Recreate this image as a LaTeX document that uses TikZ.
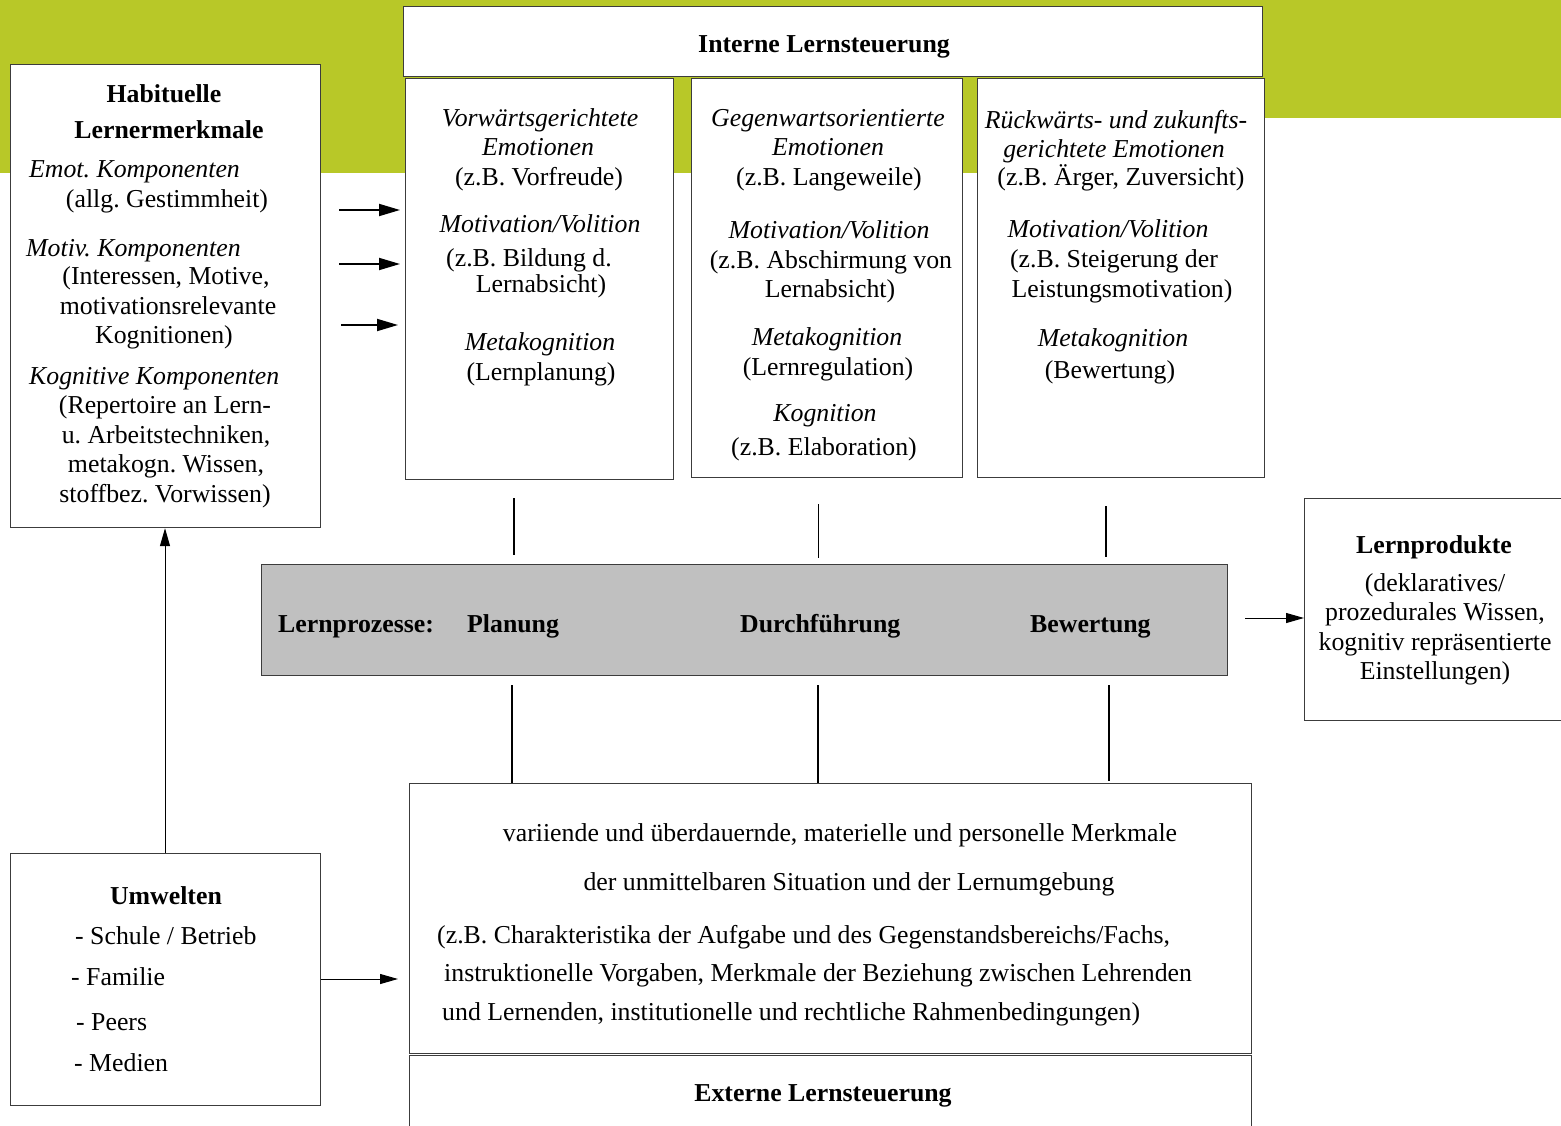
\documentclass[tikz,border=0pt]{standalone}
\usepackage{fontspec}
\setmainfont{Liberation Serif}
\usetikzlibrary{arrows.meta}
\definecolor{lime}{RGB}{184,200,40}
\definecolor{framec}{RGB}{60,60,60}
\definecolor{greyfill}{RGB}{192,192,192}
\newcommand\Tx[5]{\node[#1] (#2) at (#3,#4) {#5};}
\frenchspacing
\begin{document}
\begin{tikzpicture}[x=1pt,y=-1pt,
  box/.style={draw=framec,line width=1.2pt,fill=white,inner sep=0pt,anchor=north west},
  txt/.style={inner sep=0pt,font=\fontsize{25.8}{30}\selectfont\frenchspacing,anchor=mid,yshift=-6.5pt},
  txtl/.style={txt,anchor=mid west},
  it/.style={txt,font=\fontsize{25.8}{30}\selectfont\frenchspacing\itshape},
  itl/.style={it,anchor=mid west},
  bf/.style={txt,font=\fontsize{25.8}{30}\selectfont\frenchspacing\bfseries},
  bfl/.style={bf,anchor=mid west},
  arr/.style={line width=1.9pt,-{Triangle[length=21pt,width=12pt]}},
  thinarr/.style={line width=1pt,-{Triangle[length=18pt,width=10pt]}},
  conn/.style={line width=1.8pt}]
\useasboundingbox (0,0) rectangle (1561,1126);
% background band
\fill[lime] (0,0) rectangle (1561,118);
\fill[lime] (0,0) rectangle (1263,173);
% boxes
\node[box,minimum width=859pt,minimum height=70pt] (intern) at (403,6) {};
\node[box,minimum width=310pt,minimum height=463pt] (habit) at (10,64) {};
\node[box,minimum width=268pt,minimum height=401pt] (colA) at (405,78) {};
\node[box,minimum width=271pt,minimum height=399pt] (colB) at (691,78) {};
\node[box,minimum width=287pt,minimum height=399pt] (colC) at (977,78) {};
\node[box,fill=greyfill,minimum width=966pt,minimum height=111pt] (proc) at (261,564) {};
\node[box,minimum width=270pt,minimum height=222pt] (prod) at (1304,498) {};
\node[box,minimum width=310pt,minimum height=252pt] (umw) at (10,853) {};
\node[box,minimum width=842pt,minimum height=270pt] (situ) at (409,783) {};
\node[box,minimum width=842pt,minimum height=90pt] (extern) at (409,1055) {};
% titles
\Tx{bf}{tIntern}{824}{44}{Interne Lernsteuerung}
\Tx{bf}{tExtern}{823}{1093}{Externe Lernsteuerung}
% Habituelle
\Tx{bf}{hA}{164}{94}{Habituelle}
\Tx{bf}{hB}{169}{130}{Lernermerkmale}
\Tx{itl}{hC}{29}{169}{Emot. Komponenten}
\Tx{txt}{hD}{167}{199}{(allg. Gestimmheit)}
\Tx{itl}{hE}{26}{248}{Motiv. Komponenten}
\Tx{txt}{hF}{166}{276}{(Interessen, Motive,}
\Tx{txt}{hG}{168}{306}{motivationsrelevante}
\Tx{txt}{hH}{164}{335}{Kognitionen)}
\Tx{itl}{hI}{29}{376}{Kognitive Komponenten}
\Tx{txt}{hJ}{165}{405}{(Repertoire an Lern-}
\Tx{txt}{hK}{166}{435}{u. Arbeitstechniken,}
\Tx{txt}{hL}{166}{464}{metakogn. Wissen,}
\Tx{txt}{hM}{165}{494}{stoffbez. Vorwissen)}
% column A
\Tx{it}{aA}{540}{118}{Vorwärtsgerichtete}
\Tx{it}{aB}{538}{147}{Emotionen}
\Tx{txt}{aC}{539}{177}{(z.B. Vorfreude)}
\Tx{it}{aD}{540}{224}{Motivation/Volition}
\Tx{txt}{aE}{529}{258}{(z.B. Bildung d.}
\Tx{txt}{aF}{541}{284}{Lernabsicht)}
\Tx{it}{aG}{540}{342}{Metakognition}
\Tx{txt}{aH}{541}{372}{(Lernplanung)}
% column B
\Tx{it}{bA}{828}{118}{Gegenwartsorientierte}
\Tx{it}{bB}{828}{147}{Emotionen}
\Tx{txt}{bC}{829}{177}{(z.B. Langeweile)}
\Tx{it}{bD}{829}{230}{Motivation/Volition}
\Tx{txt}{bE}{831}{260}{(z.B. Abschirmung von}
\Tx{txt}{bF}{830}{289}{Lernabsicht)}
\Tx{it}{bG}{827}{337}{Metakognition}
\Tx{txt}{bH}{828}{367}{(Lernregulation)}
\Tx{it}{bI}{825}{413}{Kognition}
\Tx{txt}{bJ}{824}{447}{(z.B. Elaboration)}
% column C
\Tx{it}{cA}{1116}{120}{Rückwärts- und zukunfts-}
\Tx{it}{cB}{1114}{149}{gerichtete Emotionen}
\Tx{txt}{cC}{1121}{177}{(z.B. Ärger, Zuversicht)}
\Tx{it}{cD}{1108}{229}{Motivation/Volition}
\Tx{txt}{cE}{1114}{259}{(z.B. Steigerung der}
\Tx{txt}{cF}{1122}{289}{Leistungsmotivation)}
\Tx{it}{cG}{1113}{338}{Metakognition}
\Tx{txt}{cH}{1110}{370}{(Bewertung)}
% process bar
\Tx{bfl}{pA}{278}{624}{Lernprozesse:}
\Tx{bfl}{pB}{467}{624}{Planung}
\Tx{bfl}{pC}{740}{624}{Durchführung}
\Tx{bfl}{pD}{1030}{624}{Bewertung}
% products
\Tx{bf}{rA}{1434}{545}{Lernprodukte}
\Tx{txt}{rB}{1435}{583}{(deklaratives/}
\Tx{txt}{rC}{1435}{612}{prozedurales Wissen,}
\Tx{txt}{rD}{1435}{642}{kognitiv repräsentierte}
\Tx{txt}{rE}{1435}{671}{Einstellungen)}
% Umwelten
\Tx{bf}{uA}{166}{896}{Umwelten}
\Tx{txtl}{uB}{75}{936}{- Schule / Betrieb}
\Tx{txtl}{uC}{71}{977}{- Familie}
\Tx{txtl}{uD}{76}{1022}{- Peers}
\Tx{txtl}{uE}{74}{1063}{- Medien}
% situation
\Tx{txt}{sA}{840}{833}{variiende und überdauernde, materielle und personelle Merkmale}
\Tx{txt}{sB}{849}{882}{der unmittelbaren Situation und der Lernumgebung}
\Tx{txtl}{sC}{437}{935}{(z.B. Charakteristika der Aufgabe und des Gegenstandsbereichs/Fachs,}
\Tx{txtl}{sD}{444}{973}{instruktionelle Vorgaben, Merkmale der Beziehung zwischen Lehrenden}
\Tx{txtl}{sE}{442}{1012}{und Lernenden, institutionelle und rechtliche Rahmenbedingungen)}
% arrows habit -> colA
\coordinate (h1) at (339,210); \coordinate (h2) at (339,264); \coordinate (h3) at (341,325);
\draw[arr] (h1) -- ([xshift=-5pt]colA.west |- h1);
\draw[arr] (h2) -- ([xshift=-5pt]colA.west |- h2);
\draw[arr] (h3) -- ([xshift=-7pt]colA.west |- h3);
% Umwelten -> situation
\draw[thinarr] (umw.east |- 0,979) -- ([xshift=-11pt]situ.west |- 0,979);
% Umwelten -> Habituelle
\draw[thinarr] (umw.north -| 165,0) -- (habit.south -| 165,0);
% process -> products
\draw[thinarr] ([xshift=17pt]proc.east |- 0,618) -- (prod.west |- 0,618);
% vertical connectors
\coordinate (vA1) at (514,498); \coordinate (vA2) at (514,555);
\coordinate (vB1) at (818,504); \coordinate (vB2) at (818,558);
\coordinate (vC1) at (1106,506); \coordinate (vC2) at (1106,557);
\draw[conn] (vA1) -- (vA2);
\draw[conn,line width=1pt] (vB1) -- (vB2);
\draw[conn] (vC1) -- (vC2);
\coordinate (wA1) at (512,685); \coordinate (wA2) at (512,783);
\coordinate (wB1) at (818,685); \coordinate (wB2) at (818,783);
\coordinate (wC1) at (1109,685); \coordinate (wC2) at (1109,781);
\draw[conn] (wA1) -- (wA2);
\draw[conn] (wB1) -- (wB2);
\draw[conn] (wC1) -- (wC2);
\end{tikzpicture}
\end{document}
